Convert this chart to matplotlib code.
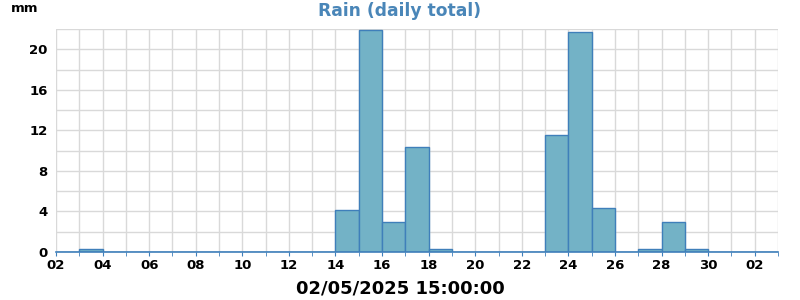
import datetime as dt
import matplotlib
matplotlib.use("Agg")
import matplotlib.pyplot as plt
import matplotlib.dates as mdates
from matplotlib.ticker import MultipleLocator

# daily rain totals (mm), one bar per day starting 2 April 2025
start_day = dt.date(2025, 4, 2)
rain_mm = [0.0, 0.3, 0.0, 0.0, 0.0, 0.0, 0.0, 0.0, 0.0, 0.0, 0.0, 0.0,
           4.1, 21.9, 3.0, 10.4, 0.3, 0.0, 0.0, 0.0, 0.0, 11.5, 21.7, 4.35,
           0.0, 0.3, 3.0, 0.3, 0.0, 0.0, 0.0]
days = [start_day + dt.timedelta(days=i) for i in range(len(rain_mm))]

title = "Rain (daily total)"
unit = "mm"
xlabel = "02/05/2025 15:00:00"

bar_face = "#73b2c6"
bar_edge = "#3f7fba"
grid_col = "#d9d9d9"

fig = plt.figure(figsize=(8, 3), dpi=100)
ax = fig.add_axes([0.07, 0.16, 0.9025, 0.7433])

ax.bar(days, rain_mm, width=1.0, align="edge", color=bar_face,
       edgecolor=bar_edge, linewidth=1.0, zorder=3)

ax.set_xlim(mdates.date2num(dt.date(2025, 4, 2)), mdates.date2num(dt.date(2025, 5, 3)))
ax.set_ylim(0, 22)

ax.xaxis.set_major_locator(mdates.DayLocator(interval=2))
ax.xaxis.set_minor_locator(mdates.DayLocator())
ax.xaxis.set_major_formatter(mdates.DateFormatter("%d"))
ax.yaxis.set_major_locator(MultipleLocator(4))
ax.yaxis.set_minor_locator(MultipleLocator(2))

ax.grid(True, which="both", color=grid_col, linewidth=1.0, zorder=0)
ax.set_axisbelow(True)

for side in ("top", "right", "left"):
    ax.spines[side].set_visible(False)
ax.spines["bottom"].set_color(bar_edge)
ax.spines["bottom"].set_linewidth(1.2)
ax.spines["bottom"].set_zorder(4)

ax.tick_params(axis="x", which="both", direction="out", length=3,
               color=bar_edge, pad=2)
ax.tick_params(axis="y", which="both", length=0, pad=6)
for lab in ax.get_xticklabels() + ax.get_yticklabels():
    lab.set_fontweight("bold")
    lab.set_fontsize(9.5)

fig.text(0.5, 0.963, title, ha="center", va="center", fontsize=12.3,
         fontweight="bold", color="#4a86b8")
fig.text(0.013, 0.97, unit, ha="left", va="center", fontsize=9.5,
         fontweight="bold", color="black")
fig.text(0.5, 0.037, xlabel, ha="center", va="center", fontsize=13,
         fontweight="bold", color="black")

fig.savefig("out.png", dpi=100)
